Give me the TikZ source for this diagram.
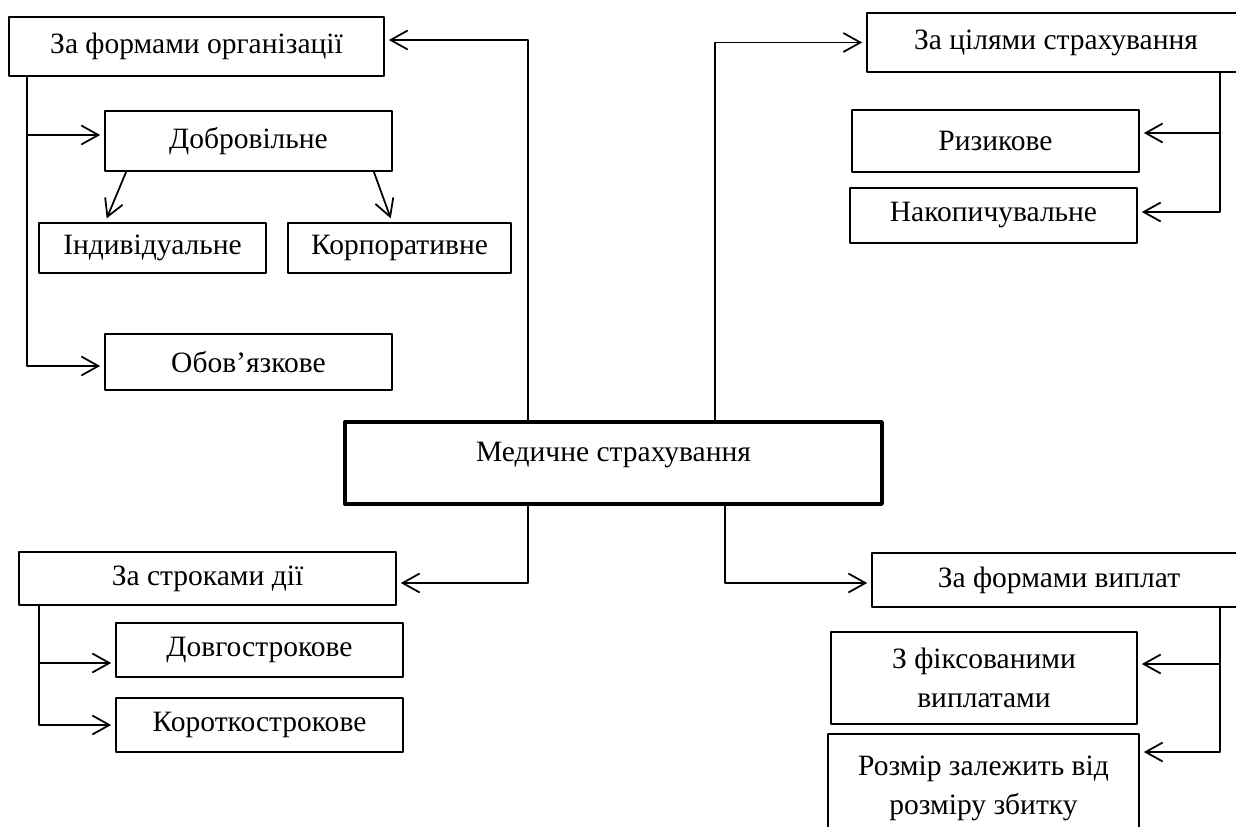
\documentclass[tikz,border=0pt]{standalone}
\usepackage{fontspec}
\setmainfont{Liberation Serif}
\usepackage{tikz}
\usetikzlibrary{arrows.meta}
\tikzset{
  box/.style={draw, line width=1pt, inner sep=0pt, align=center, font=\fontsize{16.8}{22.2}\selectfont},
  mainbox/.style={box, line width=2pt},
  conn/.style={->, line width=1pt, shorten >=0.08cm},
}
\begin{document}
\begin{tikzpicture}[line cap=round,line join=round,>={Straight Barb[length=3.4mm,width=3.8mm]},x=0.02cm,y=-0.02cm]
\useasboundingbox (0,0) rectangle (1236,827);
\clip (0,0) rectangle (1236,827);
\node[mainbox, minimum width=10.74cm, text height=0.78cm, text depth=0.86cm] (medical) at (613.5,463) {Медичне страхування};
\node[box, minimum width=7.5cm, minimum height=1.18cm] (org) at (196.5,46.5) {За формами організації};
\node[box, minimum width=5.74cm, minimum height=1.2cm] (dobr) at (248.5,141) {Добровільне};
\node[box, minimum width=4.54cm, minimum height=1.0cm] (indyv) at (152.5,248) {Індивідуальне};
\node[box, minimum width=4.46cm, minimum height=1.0cm] (korp) at (399.5,248) {Корпоративне};
\node[box, minimum width=5.74cm, minimum height=1.12cm] (obov) at (248.5,362) {Обов’язкове};
\node[box, minimum width=7.56cm, minimum height=1.18cm] (tsil) at (1056,42.5) {За цілями страхування};
\node[box, minimum width=5.74cm, minimum height=1.24cm] (ryzyk) at (995.5,141) {Ризикове};
\node[box, minimum width=5.74cm, minimum height=1.1cm] (nakop) at (993.5,215.5) {Накопичувальне};
\node[box, minimum width=7.54cm, minimum height=1.06cm] (strok) at (207.5,578.5) {За строками дії};
\node[box, minimum width=5.74cm, minimum height=1.08cm] (dovh) at (259.5,650) {Довгострокове};
\node[box, minimum width=5.74cm, minimum height=1.08cm] (korot) at (259.5,725) {Короткострокове};
\node[box, minimum width=7.48cm, minimum height=1.08cm] (vypl) at (1059,580) {За формами виплат};
\node[box, minimum width=6.12cm, minimum height=1.84cm] (fiks) at (984,678) {З фіксованими\\виплатами};
\node[box, minimum width=6.22cm, minimum height=2.16cm] (rozmir) at (983.5,788) {Розмір залежить від\\розміру збитку};
\draw[conn] ([xshift=3.7cm]medical.north west) |- ([yshift=0.13cm]org.east);
\draw[conn] ([xshift=7.44cm]medical.north west) |- (tsil.west);
\draw[conn] ([xshift=3.7cm]medical.south west) |- ([yshift=-0.09cm]strok.east);
\draw[conn] ([xshift=7.64cm]medical.south west) |- ([yshift=-0.06cm]vypl.west);
\draw[conn] ([xshift=0.38cm]org.south west) |- ([yshift=0.12cm]dobr.west);
\draw[conn] ([xshift=0.38cm]org.south west) |- ([yshift=-0.08cm]obov.west);
\draw[conn] ([xshift=0.44cm]dobr.south west) -- ([xshift=1.34cm]indyv.north west);
\draw[conn] ([xshift=-0.38cm]dobr.south east) -- ([xshift=2.1cm]korp.north west);
\draw[conn] ([xshift=7.08cm]tsil.south west) |- ([yshift=0.16cm]ryzyk.east);
\draw[conn] ([xshift=7.08cm]tsil.south west) |- ([yshift=0.07cm]nakop.east);
\draw[conn] ([xshift=0.42cm]strok.south west) |- ([yshift=-0.26cm]dovh.west);
\draw[conn] ([xshift=0.42cm]strok.south west) |- (korot.west);
\draw[conn] ([xshift=6.98cm]vypl.south west) |- ([yshift=0.28cm]fiks.east);
\draw[conn] ([xshift=6.98cm]vypl.south west) |- ([yshift=0.72cm]rozmir.east);
\end{tikzpicture}
\end{document}
